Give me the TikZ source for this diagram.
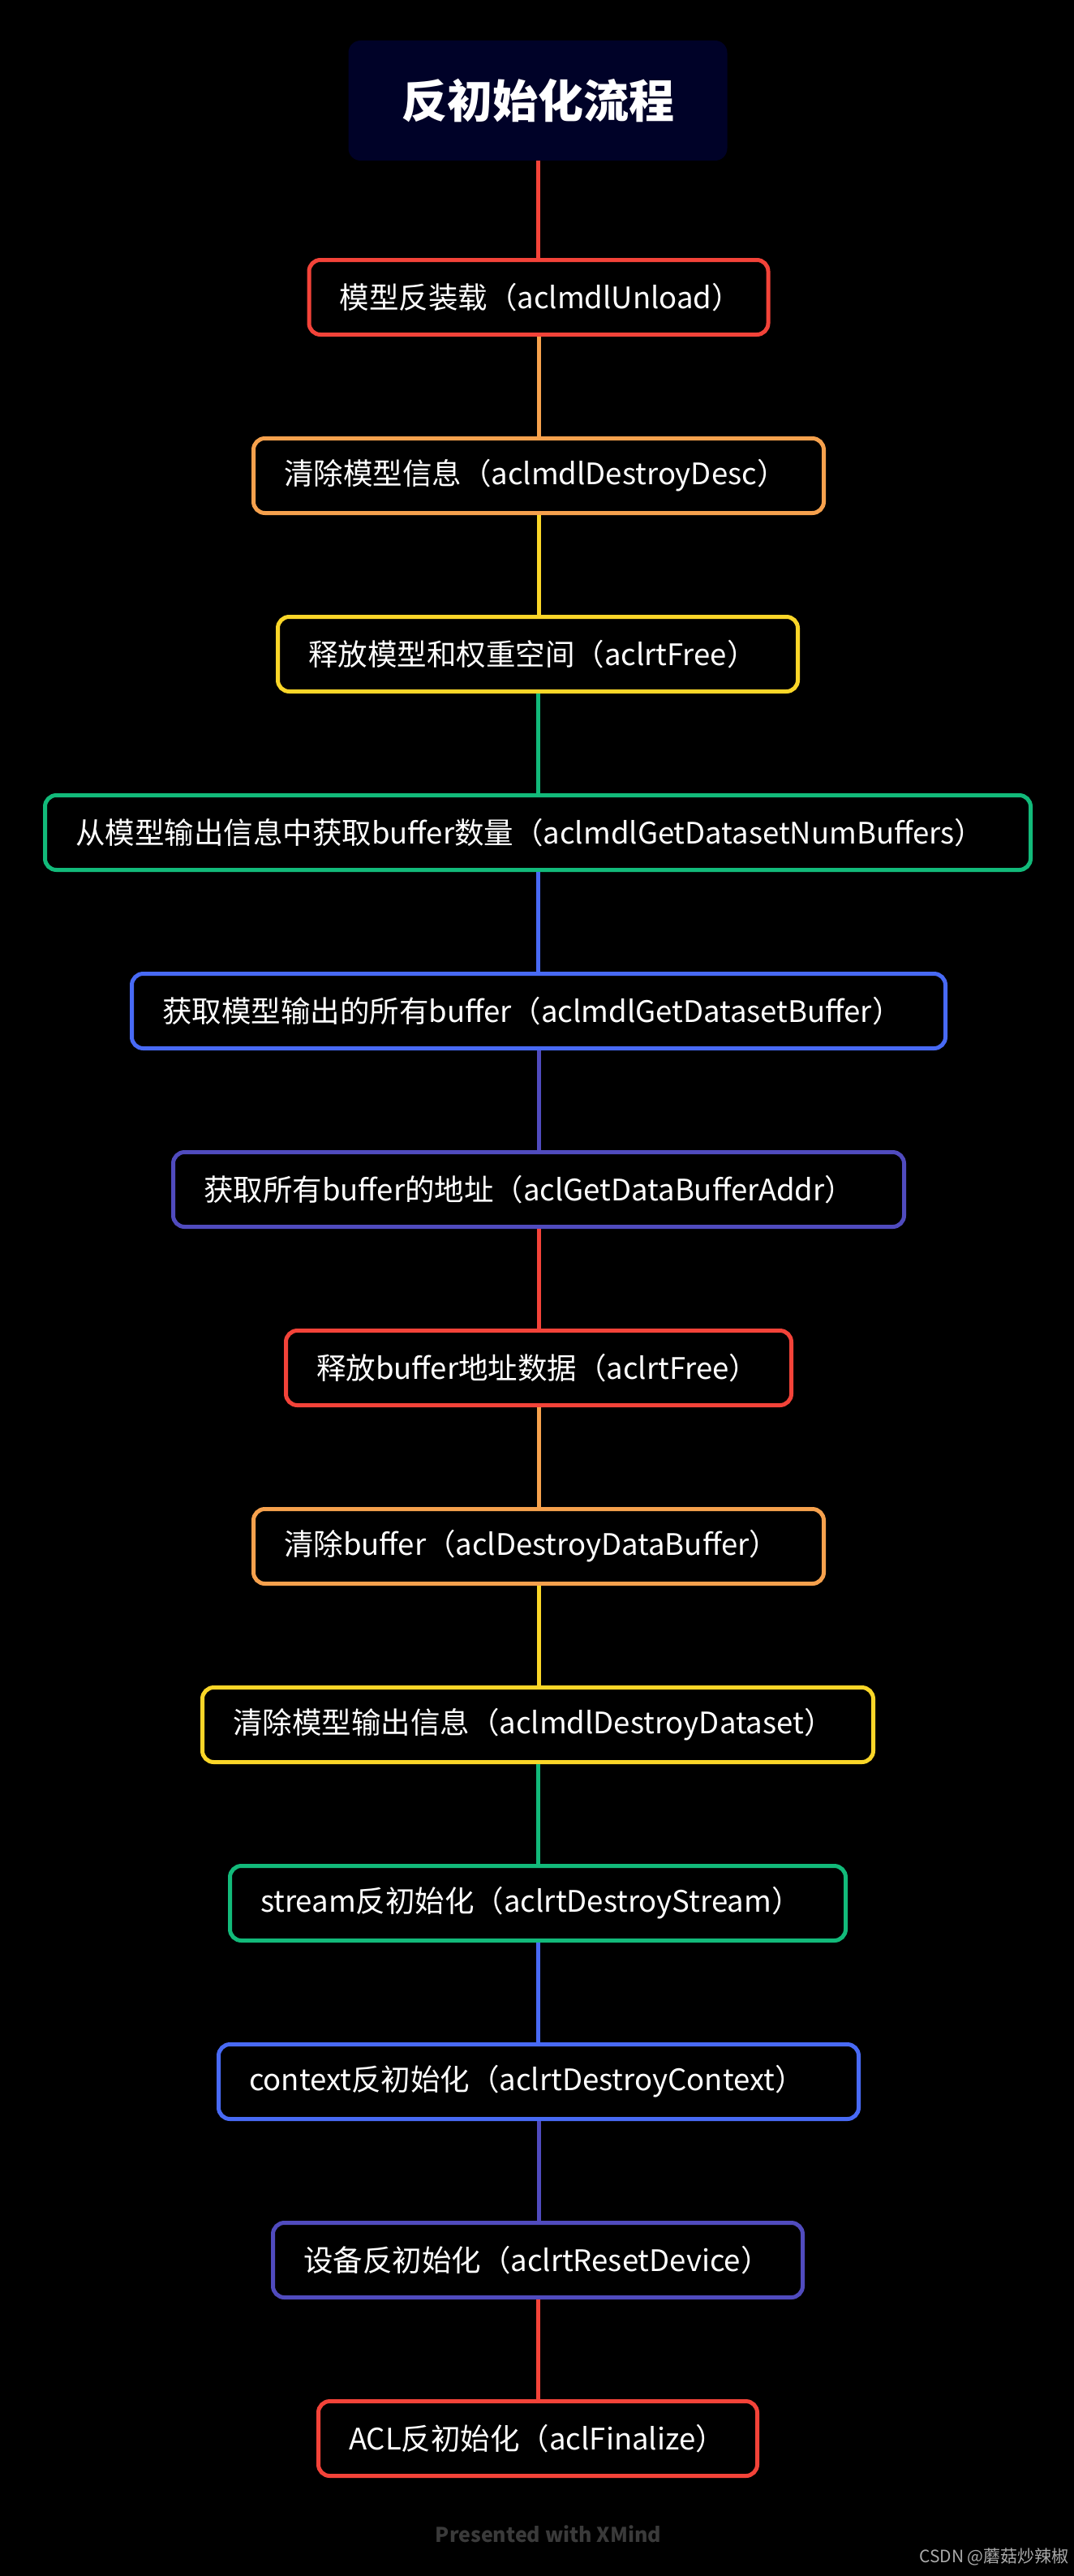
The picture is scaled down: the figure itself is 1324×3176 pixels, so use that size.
\documentclass[tikz,border=0pt]{standalone}
\usepackage{fontspec}
\setmainfont{Noto Sans CJK SC}
\definecolor{cred}{RGB}{243,67,57}
\definecolor{corange}{RGB}{246,161,77}
\definecolor{cyellow}{RGB}{250,214,40}
\definecolor{cgreen}{RGB}{18,186,122}
\definecolor{cblue}{RGB}{72,106,245}
\definecolor{cindigo}{RGB}{80,75,190}
\definecolor{navy}{RGB}{0,2,40}
\definecolor{footgray}{RGB}{58,58,58}
\definecolor{wmgray}{RGB}{170,170,170}
\begin{document}
\begin{tikzpicture}[x=1pt,y=-1pt,
  stepbox/.style={draw=#1, line width=5pt, rounded corners=14pt, fill=black,
    minimum height=92pt, inner xsep=37.5pt, inner ysep=0pt, text=white, align=left,
    font=\fontsize{36.5}{44}\selectfont},
  link/.style={draw=#1, line width=5pt}]
\fill[black] (0,0) rectangle (1324,3176);
\useasboundingbox (0,0) rectangle (1324,3176);
\node[fill=navy, rounded corners=15pt, minimum width=467pt, minimum height=148pt,
  text=white, font=\fontsize{56}{64}\selectfont\bfseries] (title) at (663,124) {反初始化流程};
\node[stepbox=cred,    text width=491pt]  (b1)  at (664,366.5)  {模型反装载（aclmdlUnload）};
\node[stepbox=corange, text width=628pt]  (b2)  at (664,586.5)  {清除模型信息（aclmdlDestroyDesc）};
\node[stepbox=cyellow, text width=566pt]  (b3)  at (663,806.5)  {释放模型和权重空间（aclrtFree）};
\node[stepbox=cgreen,  text width=1140pt] (b4)  at (663,1026.5) {从模型输出信息中获取buffer数量（aclmdlGetDatasetNumBuffers）};
\node[stepbox=cblue,   text width=928pt]  (b5)  at (664,1246.5) {获取模型输出的所有buffer（aclmdlGetDatasetBuffer）};
\node[stepbox=cindigo, text width=826pt]  (b6)  at (664,1466.5) {获取所有buffer的地址（aclGetDataBufferAddr）};
\node[stepbox=cred,    text width=548pt]  (b7)  at (664,1686.5) {释放buffer地址数据（aclrtFree）};
\node[stepbox=corange, text width=628pt]  (b8)  at (664,1906.5) {清除buffer（aclDestroyDataBuffer）};
\node[stepbox=cyellow, text width=752pt]  (b9)  at (663,2126.5) {清除模型输出信息（aclmdlDestroyDataset）};
\node[stepbox=cgreen,  text width=684pt]  (b10) at (663,2346.5) {stream反初始化（aclrtDestroyStream）};
\node[stepbox=cblue,   text width=714pt]  (b11) at (664,2566.5) {context反初始化（aclrtDestroyContext）};
\node[stepbox=cindigo, text width=578pt]  (b12) at (663,2786.5) {设备反初始化（aclrtResetDevice）};
\node[stepbox=cred,    text width=466pt]  (b13) at (663,3006.5) {ACL反初始化（aclFinalize）};
\draw[link=cred]    (title.south) -- (title.south |- b1.north);
\draw[link=corange] (b1.south) -- (b1.south |- b2.north);
\draw[link=cyellow] (b2.south) -- (b2.south |- b3.north);
\draw[link=cgreen]  (b3.south) -- (b3.south |- b4.north);
\draw[link=cblue]   (b4.south) -- (b4.south |- b5.north);
\draw[link=cindigo] (b5.south) -- (b5.south |- b6.north);
\draw[link=cred]    (b6.south) -- (b6.south |- b7.north);
\draw[link=corange] (b7.south) -- (b7.south |- b8.north);
\draw[link=cyellow] (b8.south) -- (b8.south |- b9.north);
\draw[link=cgreen]  (b9.south) -- (b9.south |- b10.north);
\draw[link=cblue]   (b10.south) -- (b10.south |- b11.north);
\draw[link=cindigo] (b11.south) -- (b11.south |- b12.north);
\draw[link=cred]    (b12.south) -- (b12.south |- b13.north);
\node[text=footgray, font=\fontsize{25}{30}\selectfont\bfseries] (foot) at (676,3124) {Presented with XMind};
\node[text=wmgray, anchor=east, font=\fontsize{21}{25}\selectfont, inner sep=0pt] (wm) at (1318,3152) {CSDN @蘑菇炒辣椒};
\end{tikzpicture}
\end{document}
